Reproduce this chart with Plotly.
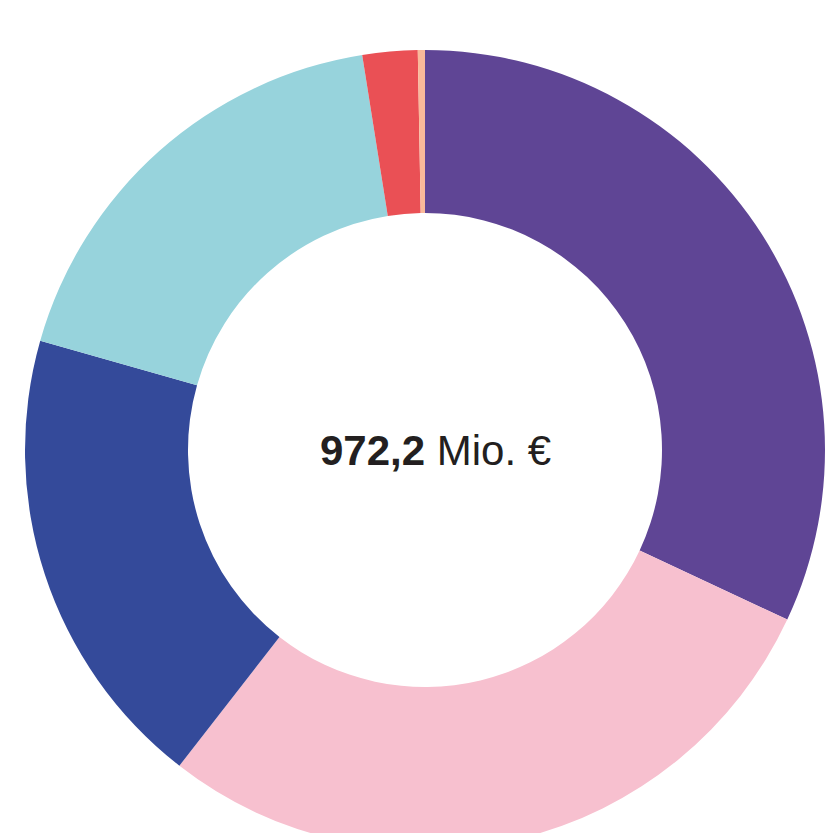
import plotly.graph_objects as go

categories = ["A", "B", "C", "D", "E", "F"]
values = [310.8, 277.6, 183.6, 175.8, 21.6, 2.8]
colors = ["#5f4595", "#f7c0cf", "#344a9a", "#97d3dc", "#ea5055", "#f9b99a"]
total_label = "<b>972,2</b> Mio. €"

W, H = 825, 900
cx, cy, R = 425, 450, 400

fig = go.Figure(go.Pie(
    labels=categories,
    values=values,
    marker=dict(colors=colors, line=dict(width=0)),
    hole=237 / 400,
    sort=False,
    direction="clockwise",
    rotation=0,
    textinfo="none",
    hoverinfo="label+value",
    domain=dict(x=[(cx - R) / W, (cx + R) / W], y=[(H - cy - R) / H, (H - cy + R) / H]),
    showlegend=False,
))

fig.add_annotation(
    x=436 / W, y=(H - cy) / H, xref="paper", yref="paper",
    text=total_label, showarrow=False,
    font=dict(family="Liberation Sans, Arial, sans-serif", size=42, color="#231f20"),
)

fig.update_layout(
    width=W, height=H,
    margin=dict(l=0, r=0, t=0, b=0),
    paper_bgcolor="white", plot_bgcolor="white",
)

fig.write_html(
    "out.html",
    config={"displayModeBar": False},
    post_script="document.body.style.margin='0';document.body.style.overflow='hidden';document.documentElement.style.overflow='hidden';",
)
